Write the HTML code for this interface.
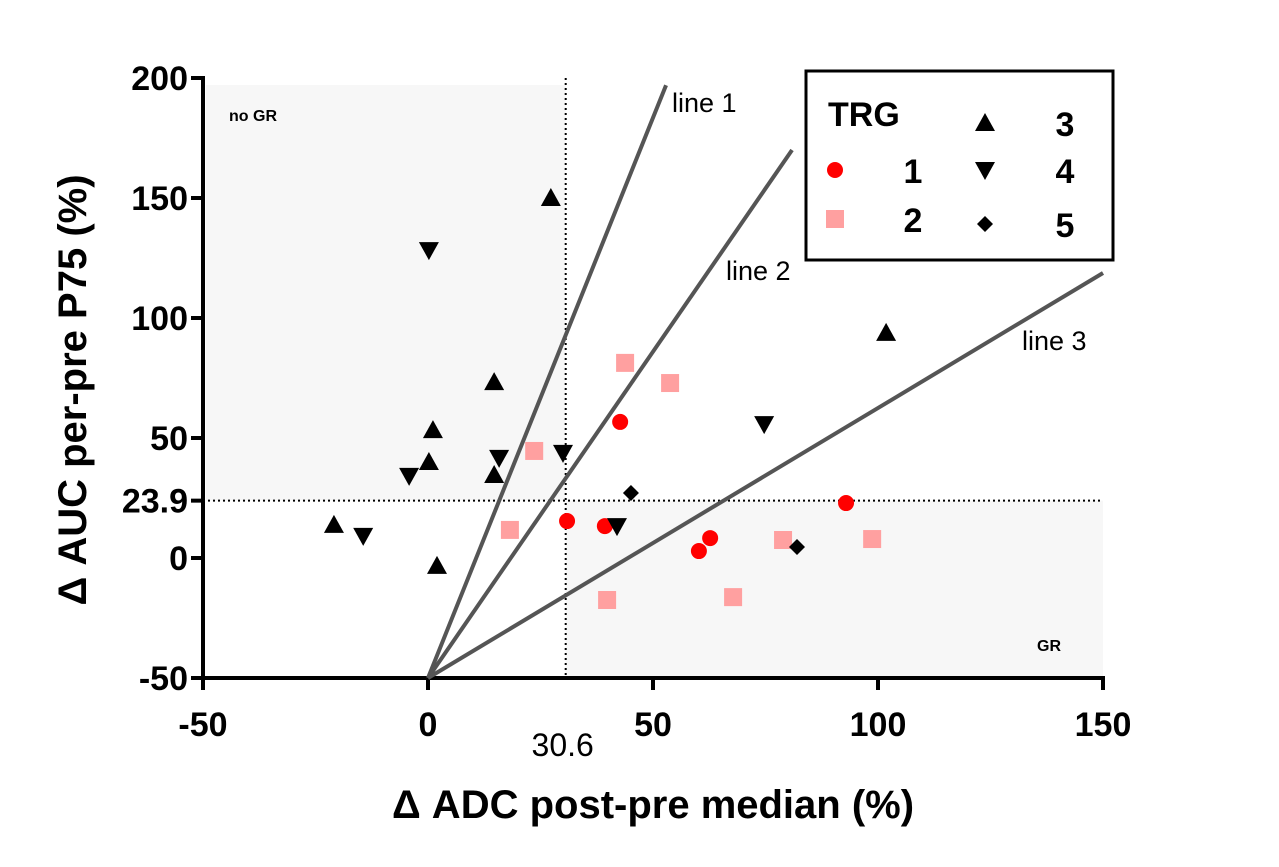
<!DOCTYPE html>
<html><head><meta charset="utf-8"><style>
html,body{margin:0;padding:0;background:#fff;}
svg{display:block;font-family:"Liberation Sans",Arial,sans-serif;}
</style></head><body>
<svg id="chart" width="1279" height="867" viewBox="0 0 1279 867">
<g id="bg"></g><g id="axes"></g><g id="lines"></g><g id="marks"></g><g id="legend"></g>
</svg>
<script>
const xTicks=[-50,0,50,100,150];
const yTicks=[-50,0,50,100,150,200];
const yExtraTick=23.9;
const xExtraTick=30.6;
const trg1X=[42.7,30.9,39.3,60.2,62.7,92.9];
const trg1Y=[56.7,15.4,13.3,2.9,8.3,22.9];
const trg2X=[43.8,53.8,23.6,18.2,39.8,67.8,78.9,98.7];
const trg2Y=[81.3,72.9,44.6,11.7,-17.5,-16.3,7.5,7.9];
const trg3X=[27.3,14.7,1.1,0.2,14.7,-20.9,2,101.8];
const trg3Y=[150,73.3,53.3,40,34.6,13.8,-3.3,93.8];
const trg4X=[0.2,-4.2,15.8,30,-14.4,42,74.7];
const trg4Y=[128.3,34.2,41.7,43.8,9.2,13.3,55.8];
const trg5X=[45.1,82];
const trg5Y=[27.1,4.6];
const refLinesEndX=[52.9,80.9,150];
const refLinesEndY=[197,170,118.75];
const refLineNames=["line 1","line 2","line 3"];

const NS="http://www.w3.org/2000/svg";
const sx=v=>428+v*4.5, sy=v=>558-v*2.4;
function mk(tag,attrs,parent,text){const e=document.createElementNS(NS,tag);for(const k in attrs)e.setAttribute(k,attrs[k]);if(text!=null)e.textContent=text;document.getElementById(parent).appendChild(e);return e;}

let r=mk('rect',{x:206,y:85,width:sx(xExtraTick)-206,height:sy(yExtraTick)-85,fill:'#f7f7f7'},'bg');


r=mk('rect',{x:sx(xExtraTick),y:sy(yExtraTick),width:sx(150)-sx(xExtraTick),height:sy(-50)-sy(yExtraTick),fill:'#f7f7f7'},'bg');


let t=mk('text',{x:229,y:121,'font-size':16,'font-weight':'bold'},'bg','no GR');


t=mk('text',{x:1037,y:651,'font-size':16,'font-weight':'bold'},'bg','GR');



let d=mk('line',{x1:sx(xExtraTick),x2:sx(xExtraTick),y1:sy(200),y2:sy(-50),stroke:'#000','stroke-width':2,'stroke-dasharray':'2,3'},'bg');


d=mk('line',{x1:sx(-50),x2:sx(150),y1:sy(yExtraTick),y2:sy(yExtraTick),stroke:'#000','stroke-width':2,'stroke-dasharray':'2,3'},'bg');



let a=mk('line',{x1:sx(-50),x2:sx(-50),y1:sy(200)-2,y2:sy(-50)+2,stroke:'#000','stroke-width':4},'axes');


a=mk('line',{x1:sx(-50)-2,x2:sx(150)+2,y1:sy(-50),y2:sy(-50),stroke:'#000','stroke-width':4},'axes');


yTicks.concat([yExtraTick]).forEach(v=>{
  const tk=mk('line',{x1:sx(-50)-12,x2:sx(-50),y1:sy(v),y2:sy(v),stroke:'#000','stroke-width':4},'axes');
  
  
  const lb=mk('text',{x:sx(-50)-15,y:sy(v)+12,'font-size':34,'font-weight':'bold','text-anchor':'end'},'axes',String(v));
  
  
});
xTicks.forEach(v=>{
  const tk=mk('line',{x1:sx(v),x2:sx(v),y1:sy(-50),y2:sy(-50)+12,stroke:'#000','stroke-width':4},'axes');
  
  
  const lb=mk('text',{x:sx(v),y:736,'font-size':34,'font-weight':'bold','text-anchor':'middle'},'axes',String(v));
  
  
});
let xl=mk('text',{x:sx(xExtraTick)-3,y:756,'font-size':32,'text-anchor':'middle'},'axes',String(xExtraTick));


xl=mk('text',{x:653,y:818,'font-size':40,'font-weight':'bold','text-anchor':'middle'},'axes','\u0394 ADC post-pre median (%)');


xl=mk('text',{x:0,y:0,'font-size':40,'font-weight':'bold','text-anchor':'middle',transform:'translate(86,390) rotate(-90)'},'axes','\u0394 AUC per-pre P75 (%)');



const lblPos=[[672,112],[726,280],[1022,350]];
refLinesEndX.forEach((ex,i)=>{
  const l=mk('line',{x1:sx(0),y1:sy(-50),x2:sx(ex),y2:sy(refLinesEndY[i]),stroke:'#555','stroke-width':4},'lines');
  
  
  const lb=mk('text',{x:lblPos[i][0],y:lblPos[i][1],'font-size':27},'lines',refLineNames[i]);
  
  
});

function marker(shape,cx,cy,parent){
  let e;
  if(shape==='circle')e=mk('circle',{cx,cy,r:8,fill:'#ff0000'},parent);
  else if(shape==='square')e=mk('rect',{x:cx-9,y:cy-9,width:18,height:18,fill:'#ffa0a0'},parent);
  else if(shape==='up')e=mk('polygon',{points:`${cx},${cy-10} ${cx-10},${cy+8} ${cx+10},${cy+8}`,fill:'#000'},parent);
  else if(shape==='down')e=mk('polygon',{points:`${cx},${cy+10} ${cx-10},${cy-8} ${cx+10},${cy-8}`,fill:'#000'},parent);
  else e=mk('polygon',{points:`${cx},${cy-8} ${cx+8},${cy} ${cx},${cy+8} ${cx-8},${cy}`,fill:'#000'},parent);
  return e;
}
const series=[[trg1X,trg1Y,'circle','trg1'],[trg2X,trg2Y,'square','trg2'],[trg3X,trg3Y,'up','trg3'],[trg4X,trg4Y,'down','trg4'],[trg5X,trg5Y,'diamond','trg5']];
series.forEach(s=>{
  s[0].forEach((xv,i)=>{
    const m=marker(s[2],sx(xv),sy(s[1][i]),'marks');
    
    
  });
});

let lb=mk('rect',{x:806,y:71,width:307,height:189,fill:'#fff',stroke:'#000','stroke-width':3},'legend');


lb=mk('text',{x:828,y:126,'font-size':34,'font-weight':'bold'},'legend','TRG');


const legItems=[['circle',835,170,'1',913,'trg1'],['square',835,219,'2',913,'trg2'],['up',985,123,'3',1065,'trg3'],['down',985,170,'4',1065,'trg4'],['diamond',985,224,'5',1065,'trg5']];
legItems.forEach(li=>{
  const m=marker(li[0],li[1],li[2],'legend');
  
  
  const tx=mk('text',{x:li[4],y:li[2]+13,'font-size':34,'font-weight':'bold','text-anchor':'middle'},'legend',li[3]);
  
  
});
</script>
</body></html>
